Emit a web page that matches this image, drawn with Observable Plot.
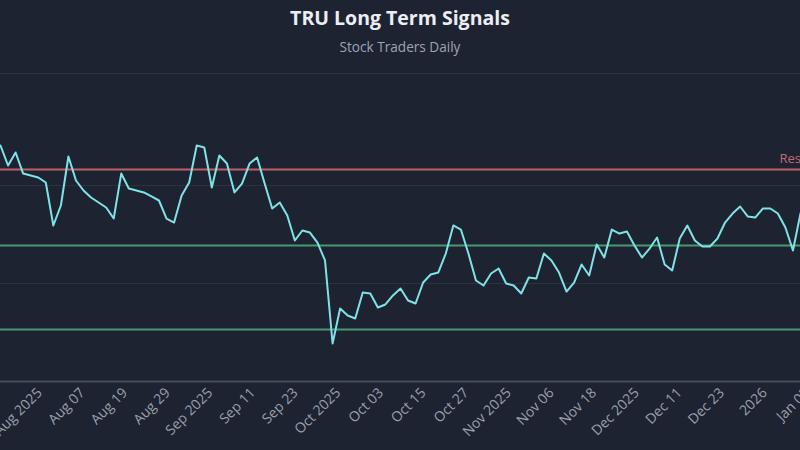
<!DOCTYPE html>
<html>
<head>
<meta charset="utf-8">
<script src="https://cdn.jsdelivr.net/npm/d3@7"></script>
<script src="https://cdn.jsdelivr.net/npm/@observablehq/plot@0.6"></script>
<style>
  html, body { margin: 0; padding: 0; background: #1e2332; overflow: hidden; }
  body { width: 800px; height: 450px; font-family: "Open Sans", sans-serif; }
  #head { height: 62px; text-align: center; }
  #title { height: 36px; line-height: 36px; font-size: 19.5px; font-weight: 700; color: #eceef3; }
  #subtitle { height: 22px; line-height: 22px; font-size: 13.6px; color: #9ea4b2; }
  #chart svg { display: block; background: transparent; }
</style>
</head>
<body>
<div id="head">
  <div id="title">TRU Long Term Signals</div>
  <div id="subtitle">Stock Traders Daily</div>
</div>
<div id="chart"></div>
<script>
// Closing prices, one per trading session, in order
const prices = [
  94.08, 92.04, 93.37, 91.22, 91.02, 90.82, 90.31, 85.92, 87.96, 92.96,
  90.51, 89.49, 88.78, 88.27, 87.76, 86.63, 91.22, 89.69, 89.49, 89.29,
  88.88, 88.47, 86.63, 86.22, 88.98, 90.31, 94.08, 93.88, 89.80, 93.06,
  92.24, 89.29, 90.20, 92.24, 92.86, 90.20, 87.65, 88.27, 86.94, 84.39,
  85.41, 85.20, 84.18, 82.35, 73.88, 77.45, 76.73, 76.43, 79.08, 78.98,
  77.55, 77.86, 78.78, 79.49, 78.27, 77.96, 80.10, 80.92, 81.12, 83.06,
  85.92, 85.51, 83.06, 80.31, 79.80, 81.02, 81.53, 80.00, 79.80, 78.98,
  80.61, 80.51, 83.06, 82.35, 81.12, 79.18, 80.10, 81.94, 80.82, 83.98,
  82.65, 85.51, 85.10, 85.31, 83.88, 82.65, 83.57, 84.69, 81.94, 81.33,
  84.59, 85.92, 84.39, 83.78, 83.78, 84.59, 86.22, 87.14, 87.86, 86.84,
  86.73, 87.65, 87.65, 87.14, 85.71, 83.37, 87.14
];

// Signal levels
const resistanceLevel = 91.63;
const supportLevels = [83.88, 75.31];
const resistanceLabel = "Resistance";

// Tick labels along the session axis
const tickLabels = [
  "Aug 2025", "Aug 07", "Aug 19", "Aug 29", "Sep 2025", "Sep 11", "Sep 23",
  "Oct 2025", "Oct 03", "Oct 15", "Oct 27", "Nov 2025", "Nov 06", "Nov 18",
  "Dec 2025", "Dec 11", "Dec 23", "2026", "Jan 05"
];
// session index at which each tick label sits
const tickSessions = [
  5.2, 10.85, 16.5, 22.15, 27.8, 33.45, 39.1, 44.75, 50.4, 56.05,
  61.7, 67.35, 73.0, 78.65, 84.3, 89.95, 95.6, 101.25, 106.9
];

const gridValues = [80, 90, 101.43];

const data = prices.map((p, i) => ({i, p}));

const chart = Plot.plot({
  width: 800,
  height: 388,
  marginTop: 11,
  marginBottom: 69,
  marginLeft: 0,
  marginRight: 0,
  style: {background: "transparent", fontFamily: "Open Sans, sans-serif", overflow: "visible"},
  x: {domain: [0, prices.length - 1], axis: null},
  y: {domain: [70, 101.43], axis: null},
  marks: [
    Plot.ruleY(gridValues, {stroke: "#2b3142", strokeWidth: 1}),
    Plot.ruleY(supportLevels, {stroke: "#4fae7e", strokeWidth: 2, strokeOpacity: 0.85}),
    Plot.ruleY([resistanceLevel], {stroke: "#d2646f", strokeWidth: 2, strokeOpacity: 0.9}),
    Plot.text([resistanceLabel], {
      frameAnchor: "right", y: () => resistanceLevel, dx: -21, dy: -11,
      textAnchor: "start", fill: "#c86773", fontSize: 13
    }),
    Plot.line(data, {x: "i", y: "p", stroke: "#7fe3e6", strokeWidth: 2, clip: true}),
    Plot.ruleY([70], {stroke: "#474d5f", strokeWidth: 2}),
    Plot.axisX({
      ticks: tickSessions,
      tickFormat: (d, k) => tickLabels[k],
      tickRotate: -45,
      tickSize: 0,
      tickPadding: 9,
      fontSize: 14,
      label: null,
      color: "#9aa0ad",
      fill: "#9aa0ad"
    })
  ]
});
document.getElementById("chart").appendChild(chart);
</script>
</body>
</html>
